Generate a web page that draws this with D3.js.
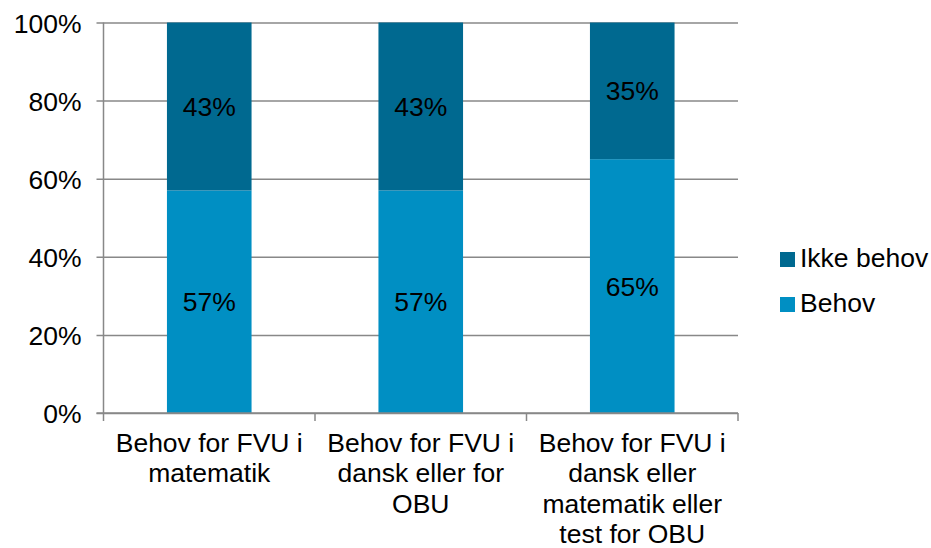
<!DOCTYPE html>
<html>
<head>
<meta charset="utf-8">
<script src="https://cdn.jsdelivr.net/npm/d3@7"></script>
<style>
  body { margin: 0; background: #fff; }
  text { font-family: "Liberation Sans", Arial, sans-serif; }
</style>
</head>
<body>
<div id="chart"></div>
<script>
// data
var categories = ["Behov for FVU i matematik", "Behov for FVU i dansk eller for OBU", "Behov for FVU i dansk eller matematik eller test for OBU"]
var behov = [57, 57, 65]
var ikkeBehov = [43, 43, 35]
var seriesNames = ["Behov", "Ikke behov"]
var yTicks = [0, 20, 40, 60, 80, 100]

var screen = {width: 931, height: 548}
var plot = {left: 103.5, right: 738, top: 22.5, bottom: 413}
var colors = {"Behov": "#008fc3", "Ikke behov": "#006990"}
var fontSize = 26.5

var svg = d3.select("#chart").append("svg")
  .attr("width", screen.width)
  .attr("height", screen.height)

// scales
var xScale = d3.scaleBand()
  .domain(categories)
  .range([plot.left, plot.right])
  .paddingInner(0.6)
  .paddingOuter(0.3)
var xCat = d3.scaleBand()
  .domain(categories)
  .range([plot.left, plot.right])
var yScale = d3.scaleLinear()
  .domain([0, 100])
  .range([plot.bottom, plot.top])

// gridlines + y axis
var yAxis = d3.axisLeft(yScale)
  .tickValues(yTicks)
  .tickSize(-(plot.right - plot.left))
  .tickFormat(function(d) { return d + "%" })
var gy = svg.append("g")
  .attr("transform", "translate(" + plot.left + ",0)")
  .call(yAxis)
gy.select(".domain").remove()
gy.selectAll(".tick line").attr("stroke", "#888").attr("stroke-width", 1.5)
  .attr("x1", -7).attr("x2", plot.right - plot.left)
gy.selectAll(".tick text").style("font-size", fontSize + "px").attr("fill", "#000")
  .attr("x", -22)
  .attr("dy", "0.36em")

// y axis line
svg.append("line")
  .attr("x1", plot.left).attr("x2", plot.left)
  .attr("y1", plot.top).attr("y2", plot.bottom)
  .attr("stroke", "#888").attr("stroke-width", 1.5)

// stacked data
var rows = categories.map(function(c, i) {
  return {cat: c, "Behov": behov[i], "Ikke behov": ikkeBehov[i]}
})
var stack = d3.stack().keys(seriesNames)(rows)

var layers = svg.selectAll(".layer")
  .data(stack)
  .enter().append("g")
  .attr("class", "layer")
  .attr("fill", function(d) { return colors[d.key] })

layers.selectAll("rect")
  .data(function(d) { return d })
  .enter().append("rect")
  .attr("x", function(d) { return xScale(d.data.cat) })
  .attr("width", xScale.bandwidth())
  .attr("y", function(d) { return yScale(d[1]) })
  .attr("height", function(d) { return yScale(d[0]) - yScale(d[1]) })

// value labels
layers.selectAll("text")
  .data(function(d) { return d })
  .enter().append("text")
  .attr("x", function(d) { return xScale(d.data.cat) + xScale.bandwidth() / 2 })
  .attr("y", function(d) { return (yScale(d[0]) + yScale(d[1])) / 2 })
  .attr("dy", "0.36em")
  .attr("text-anchor", "middle")
  .attr("fill", "#000")
  .style("font-size", fontSize + "px")
  .text(function(d) { return (d[1] - d[0]) + "%" })

// x axis
svg.append("line")
  .attr("x1", plot.left - 7).attr("x2", plot.right)
  .attr("y1", plot.bottom).attr("y2", plot.bottom)
  .attr("stroke", "#888").attr("stroke-width", 1.5)
// category boundary ticks
svg.selectAll(".xtick")
  .data(categories.concat(["end"]))
  .enter().append("line")
  .attr("x1", function(d, i) { return i < categories.length ? xCat(d) : plot.right })
  .attr("x2", function(d, i) { return i < categories.length ? xCat(d) : plot.right })
  .attr("y1", plot.bottom).attr("y2", plot.bottom + 8)
  .attr("stroke", "#888").attr("stroke-width", 1.5)

// category labels (wrapped)
var maxWidth = 205
categories.forEach(function(c) {
  var t = svg.append("text")
    .attr("text-anchor", "middle")
    .attr("fill", "#000")
    .style("font-size", fontSize + "px")
  var cx = xCat(c) + xCat.bandwidth() / 2
  var words = c.split(" ")
  var lines = []
  var line = []
  var probe = svg.append("text").style("font-size", fontSize + "px")
  words.forEach(function(w) {
    line.push(w)
    probe.text(line.join(" "))
    if (probe.node().getComputedTextLength() > maxWidth && line.length > 1) {
      line.pop()
      lines.push(line.join(" "))
      line = [w]
    }
  })
  lines.push(line.join(" "))
  probe.remove()
  lines.forEach(function(l, i) {
    t.append("tspan").attr("x", cx).attr("y", plot.bottom + 39 + i * 30.3).text(l)
  })
})

// legend
var legendKeys = ["Ikke behov", "Behov"]
var legend = svg.selectAll(".legend")
  .data(legendKeys)
  .enter().append("g")
  .attr("class", "legend")
  .attr("transform", function(d, i) { return "translate(780," + (252 + i * 45) + ")" })
legend.append("rect")
  .attr("width", 15).attr("height", 15)
  .attr("fill", function(d) { return colors[d] })
legend.append("text")
  .attr("x", 20).attr("y", 15)
  .attr("fill", "#000")
  .style("font-size", fontSize + "px")
  .text(function(d) { return d })
</script>
</body>
</html>
